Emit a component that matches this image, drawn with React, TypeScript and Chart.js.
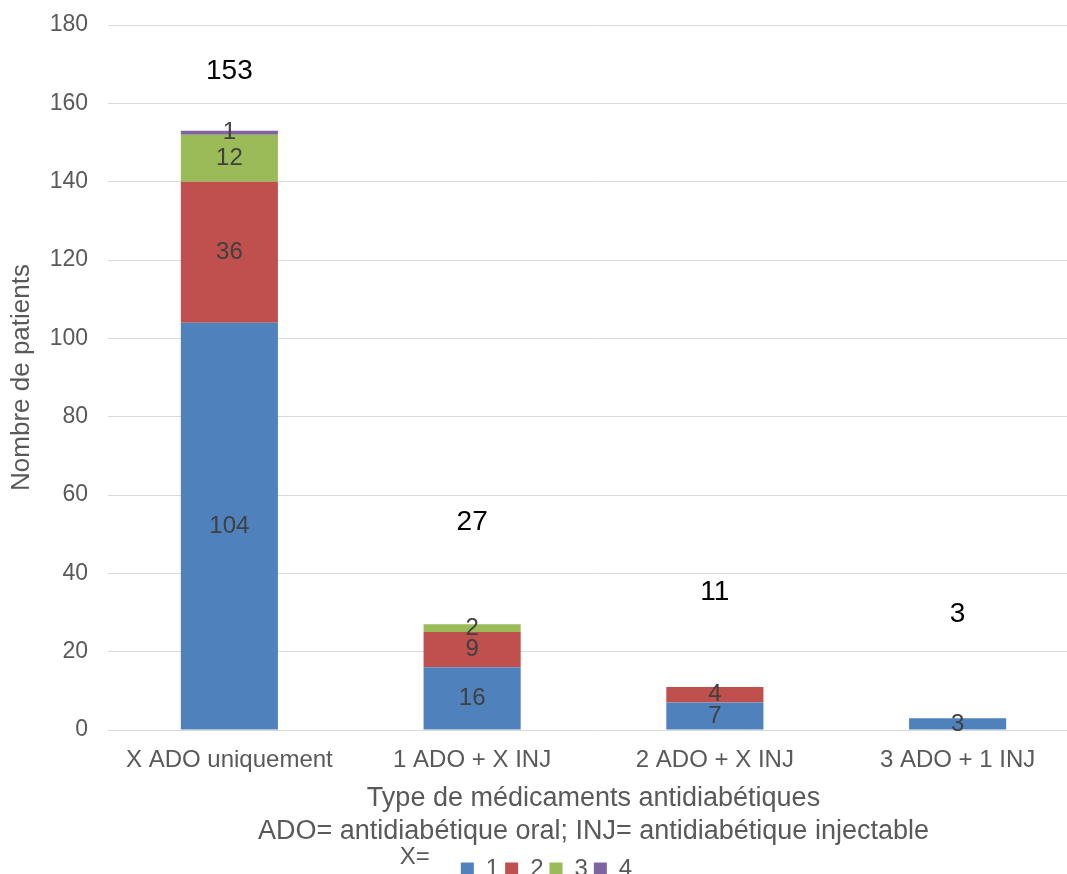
import { useEffect, useRef } from "react";
import { Chart, registerables } from "chart.js";

Chart.register(...registerables);

// Categories of antidiabetic treatment
const categories = ["X ADO uniquement", "1 ADO + X INJ", "2 ADO + X INJ", "3 ADO + 1 INJ"];

// Number of patients for each value of X
const seriesNames = ["1", "2", "3", "4"];
const valuesX1 = [104, 16, 7, 3];
const valuesX2 = [36, 9, 4, 0];
const valuesX3 = [12, 2, 0, 0];
const valuesX4 = [1, 0, 0, 0];

const yMin = 0;
const yMax = 180;
const yStep = 20;

const seriesColors = ["#4F81BD", "#C0504D", "#9BBB59", "#8064A2"];
const FONT = "'Liberation Sans', Arial, sans-serif";
const TEXT_GREY = "#595959";
const LABEL_GREY = "#404040";
const GRID = "#D9D9D9";

// Vertical lift (px) of each total label above its stack
const totalLift = [59, 102, 95, 104];
// Horizontal nudge (px) of the legend row
const LEGEND_SHIFT = 7;

const segmentLabels = {
  id: "segmentLabels",
  afterDatasetsDraw(chart: any) {
    const { ctx } = chart;
    ctx.save();
    ctx.font = `24px ${FONT}`;
    ctx.fillStyle = LABEL_GREY;
    ctx.textAlign = "center";
    ctx.textBaseline = "middle";
    chart.data.datasets.forEach((ds: any, di: number) => {
      const meta = chart.getDatasetMeta(di);
      meta.data.forEach((el: any, i: number) => {
        const v = ds.data[i];
        if (!v) return;
        const { x, y, base } = el.getProps(["x", "y", "base"], true);
        ctx.fillText(String(v), x, (y + base) / 2);
      });
    });
    // stack totals
    const xs = chart.scales.x;
    const ys = chart.scales.y;
    ctx.font = `28px ${FONT}`;
    ctx.fillStyle = "#000000";
    categories.forEach((_, i) => {
      const total = chart.data.datasets.reduce((s: number, ds: any) => s + (ds.data[i] || 0), 0);
      ctx.fillText(String(total), xs.getPixelForValue(i), ys.getPixelForValue(total) - totalLift[i]);
    });
    ctx.restore();
  },
};

const legendPrefix = {
  id: "legendPrefix",
  afterLayout(chart: any) {
    const lg = chart.legend;
    if (!lg) return;
    lg.left += LEGEND_SHIFT;
    lg.right += LEGEND_SHIFT;
    (lg.legendHitBoxes || []).forEach((b: any) => {
      b.left += LEGEND_SHIFT;
    });
  },
  afterDraw(chart: any) {
    const boxes = chart.legend && chart.legend.legendHitBoxes;
    if (!boxes || !boxes.length) return;
    const first = boxes[0];
    const { ctx } = chart;
    ctx.save();
    ctx.font = `24px ${FONT}`;
    ctx.fillStyle = TEXT_GREY;
    ctx.textAlign = "right";
    ctx.textBaseline = "middle";
    ctx.fillText("X=", first.left - 31, first.top + first.height / 2 - 12);
    ctx.restore();
  },
};

export default function App() {
  const canvasRef = useRef<HTMLCanvasElement | null>(null);

  useEffect(() => {
    if (!canvasRef.current) return;
    const seriesValues = [valuesX1, valuesX2, valuesX3, valuesX4];
    const chart = new Chart(canvasRef.current, {
      type: "bar",
      data: {
        labels: categories,
        datasets: seriesNames.map((name, k) => ({
          label: name,
          data: seriesValues[k],
          backgroundColor: seriesColors[k],
          borderWidth: 0,
          categoryPercentage: 1,
          barPercentage: 0.4,
        })),
      },
      options: {
        animation: false,
        responsive: true,
        maintainAspectRatio: false,
        layout: { padding: { top: 25, right: 19, left: 0, bottom: 0 } },
        plugins: {
          tooltip: { enabled: false },
          legend: {
            position: "bottom",
            labels: {
              boxWidth: 13,
              boxHeight: 13,
              padding: 6,
              color: TEXT_GREY,
              font: { family: FONT, size: 24 },
            },
          },
        },
        scales: {
          x: {
            stacked: true,
            grid: { display: false },
            border: { display: false },
            ticks: {
              color: TEXT_GREY,
              font: { family: FONT, size: 24 },
              padding: 8,
              maxRotation: 0,
              autoSkip: false,
            },
            title: {
              display: true,
              text: [
                "Type de médicaments antidiabétiques",
                "ADO= antidiabétique oral; INJ= antidiabétique injectable",
              ],
              color: TEXT_GREY,
              font: { family: FONT, size: 27, lineHeight: 1.22 },
              padding: { top: 0, bottom: 3 },
            },
            afterFit: (scale: any) => {
              scale.height = 121;
            },
          },
          y: {
            stacked: true,
            min: yMin,
            max: yMax,
            grid: {
              color: GRID,
              lineWidth: 1,
              drawTicks: true,
              tickLength: 20,
              tickColor: "rgba(0,0,0,0)",
            },
            border: { display: false },
            ticks: {
              stepSize: yStep,
              color: TEXT_GREY,
              font: { family: FONT, size: 23 },
              padding: 0,
            },
            title: {
              display: true,
              text: "Nombre de patients",
              color: TEXT_GREY,
              font: { family: FONT, size: 26 },
              padding: { top: 6, bottom: 0 },
            },
            afterFit: (scale: any) => {
              scale.width = 108;
            },
          },
        },
      },
      plugins: [segmentLabels, legendPrefix],
    });
    return () => chart.destroy();
  }, []);

  return (
    <div style={{ position: "fixed", left: 0, top: 0, width: 1067, height: 874, overflow: "hidden", background: "#fff" }}>
      <div style={{ position: "relative", width: 1098, height: 891 }}>
        <canvas ref={canvasRef} />
      </div>
    </div>
  );
}
